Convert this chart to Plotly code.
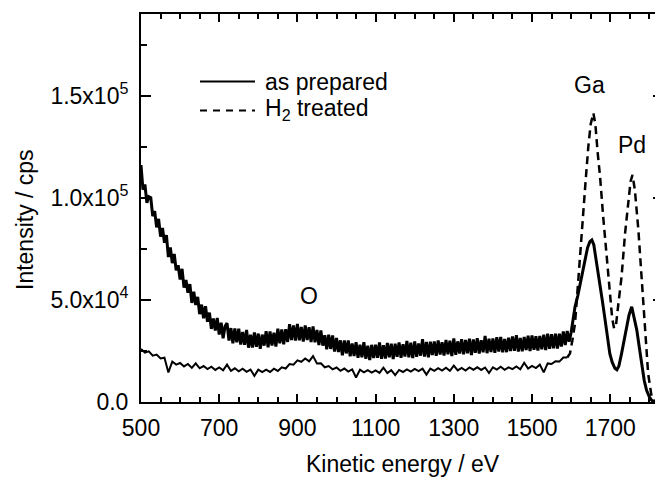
import plotly.graph_objects as go

# ---------------- data ----------------
# "as prepared" (solid curve), noisy background region, 5 eV steps 500..1595
prep_energy_low = list(range(500, 1600, 5))
prep_counts_low = [
    116000, 104000, 106500, 97500, 100500, 100000, 91000, 93500, 85500, 89700,
    81000, 85200, 78000, 81700, 71000, 75700, 68000, 72500, 64500, 67000,
    60000, 65200, 56000, 59700, 53500, 57700, 48500, 54000, 47500, 51500,
    43000, 47700, 41000, 46900, 39300, 43800, 35800, 40900, 35000, 41200,
    33000, 38800, 31200, 37100, 38600, 30100, 36200, 28800, 36000, 29200,
    35900, 28100, 34300, 28000, 35300, 26600, 32900, 26700, 34100, 27000,
    33500, 26000, 33000, 27600, 34700, 26800, 34500, 27700, 33900, 27100,
    35900, 28700, 35500, 28300, 35600, 29400, 38100, 30300, 37500, 30100,
    38200, 30200, 36700, 29600, 37500, 30300, 36600, 29300, 37000, 29200,
    35300, 27900, 35000, 27600, 32700, 25800, 32900, 26000, 32600, 24700,
    31400, 24500, 30200, 22900, 30100, 23800, 30100, 22400, 28700, 22500,
    29300, 21600, 28000, 21900, 29300, 21200, 27600, 20500, 28000, 21500,
    28100, 21600, 29200, 21200, 27800, 21300, 28900, 21900, 28500, 21000,
    28600, 22100, 29200, 21700, 28300, 22300, 29900, 21900, 29000, 21500,
    29600, 22100, 28700, 22700, 30800, 22300, 29400, 21900, 29500, 23000,
    29600, 22600, 30200, 23200, 29300, 22800, 30400, 23400, 30000, 22500,
    31100, 23100, 29700, 23700, 30800, 23300, 30400, 23900, 31000, 23000,
    30600, 24100, 31200, 23700, 30300, 24300, 32400, 23900, 31000, 24500,
    31100, 24100, 31700, 24700, 31800, 24300, 30900, 24400, 31500, 25000,
    32100, 25100, 32700, 24700, 31300, 24800, 31900, 25400, 32500, 25000,
    32600, 25600, 32200, 25200, 32300, 25800, 32900, 25400, 33500, 26100,
    33200, 26300, 33500, 26200, 33400, 27200, 34500, 27900, 34800, 29500,
]
# "as prepared" peak region (Ga, Pd)
prep_energy_peak = [1600, 1605, 1610, 1617, 1623, 1630, 1636, 1642, 1648, 1653,
                    1658, 1663, 1668, 1674, 1680, 1687, 1693, 1699, 1705, 1712,
                    1717, 1722, 1729, 1736, 1742, 1748, 1755, 1761, 1768, 1775,
                    1781, 1787, 1793, 1800, 1806, 1815, 1825, 1835]
prep_counts_peak = [34000, 40000, 46600, 52000, 58100, 65000, 71100, 75500, 78500, 79300,
                    77000, 71000, 64000, 58100, 49500, 40100, 31500, 23700, 19500, 16500,
                    15800, 17500, 23700, 31000, 36800, 42500, 46600, 42000, 35200, 26000,
                    17200, 10500, 5700, 2500, 800, 200, 0, 0]

# "H2 treated" (dashed curve), noisy background region, 10 eV steps 500..1590
h2_energy_low = list(range(500, 1600, 10))
h2_counts_low = [
    26000, 24200, 24800, 22700, 23200, 21300, 21700, 14500, 19800, 18300,
    19100, 17400, 18600, 16700, 18900, 16500, 17600, 16100, 17300, 15700,
    16900, 15500, 18300, 15300, 16500, 15000, 16300, 14800, 15900, 12800,
    15800, 14600, 15800, 14700, 16300, 15200, 17000, 16400, 18600, 18300,
    20400, 19700, 21300, 19900, 22500, 18900, 19000, 17000, 17600, 16000,
    16900, 15300, 16400, 14900, 16000, 12000, 15800, 14500, 15600, 14400,
    15500, 14300, 16800, 14200, 15600, 13200, 15700, 14700, 16000, 14900,
    16200, 15100, 16300, 13400, 16400, 15300, 16600, 15400, 16800, 15300,
    17800, 15500, 16700, 15400, 16900, 15800, 17000, 15700, 16900, 14200,
    17000, 15900, 17300, 15800, 17000, 16100, 17400, 16000, 19200, 16400,
    17700, 16600, 18300, 14500, 18900, 18600, 20000, 19800, 21800, 21800,
]
# "H2 treated" peak region (Ga, Pd)
h2_energy_peak = [1590, 1597, 1603, 1610, 1619, 1627, 1636, 1644, 1650, 1657,
                  1662, 1668, 1674, 1682, 1691, 1699, 1705, 1710, 1715, 1721,
                  1729, 1738, 1746, 1752, 1757, 1763, 1772, 1781, 1789, 1797,
                  1806, 1818, 1835]
h2_counts_peak = [21800, 23700, 30000, 38500, 61300, 84300, 105500, 125100, 136000, 141500,
                  136000, 122000, 110400, 90800, 71100, 51500, 41000, 36000, 38000, 48300,
                  61300, 82600, 99000, 108000, 111200, 103900, 84300, 58100, 35200, 13900,
                  2500, 0, 0]

x_tickvals = [500, 700, 900, 1100, 1300, 1500, 1700]
y_tickvals = [0, 50000, 100000, 150000]
y_ticktext = ["0.0", "5.0x10<sup>4</sup>", "1.0x10<sup>5</sup>", "1.5x10<sup>5</sup>"]

peak_labels = ["Ga", "Pd", "O"]
peak_label_x = [1648, 1756, 930]
peak_label_y = [155000, 126000, 52000]

legend_names = ["as prepared", "H<sub>2</sub> treated"]

# ---------------- figure ----------------
FONT = "Liberation Sans, Arial, sans-serif"
FS = 23

# page body has an 8 px margin: figure is 655x469 placed at (8, 8)
PX0, PY0, PW, PH = 141, 14, 522, 388   # plot area in window pixels


def px(xs):
    return (xs - PX0) / PW


def py(ys):
    return (PY0 + PH - ys) / PH


fig = go.Figure()

fig.add_trace(go.Scatter(x=h2_energy_low, y=h2_counts_low, mode="lines",
                         line=dict(color="black", width=2.0),
                         yaxis="y2", showlegend=False, hoverinfo="skip"))
fig.add_trace(go.Scatter(x=h2_energy_peak, y=h2_counts_peak, mode="lines",
                         line=dict(color="black", width=2.5, dash="8px,5px"),
                         yaxis="y2", showlegend=False, hoverinfo="skip"))
fig.add_trace(go.Scatter(x=prep_energy_low + prep_energy_peak,
                         y=prep_counts_low + prep_counts_peak, mode="lines",
                         line=dict(color="black", width=3.0),
                         showlegend=False, hoverinfo="skip"))

minor_x = dict(ticks="inside", ticklen=5, tickwidth=2, tickcolor="black", dtick=50, showgrid=False)
minor_y = dict(ticks="inside", ticklen=6, tickwidth=2, tickcolor="black", dtick=25000, showgrid=False)

fig.update_layout(
    width=655, height=469,
    margin=dict(l=133, r=0, t=6, b=75, autoexpand=False),
    paper_bgcolor="white", plot_bgcolor="white",
    font=dict(family=FONT, size=FS, color="black"),
    showlegend=False,
    xaxis=dict(range=[500, 1835], tickvals=x_tickvals, ticks="inside", ticklen=8,
               tickwidth=2, tickcolor="black", showline=True, linewidth=2,
               linecolor="black", mirror="ticks", showgrid=False, zeroline=False,
               minor=minor_x, tickfont=dict(family=FONT, size=FS),
               ticklabelstandoff=4, automargin=False),
    yaxis=dict(range=[0, 190000], tickvals=y_tickvals, ticktext=y_ticktext,
               ticks="inside", ticklen=10, tickwidth=2, tickcolor="black",
               showline=True, linewidth=2, linecolor="black", mirror=False,
               showgrid=False, zeroline=False, minor=minor_y,
               tickfont=dict(family=FONT, size=FS), ticklabelstandoff=6,
               automargin=False),
    yaxis2=dict(range=[0, 190000], overlaying="y", side="right", anchor="x",
                tickvals=y_tickvals, ticks="inside", ticklen=10, tickwidth=2,
                tickcolor="black", showline=False, showticklabels=False,
                showgrid=False, zeroline=False, minor=minor_y, automargin=False),
)

# axis titles
fig.add_annotation(text="Kinetic energy / eV", xref="paper", yref="paper",
                   x=px(403), y=py(464), xanchor="center", yanchor="middle",
                   showarrow=False, font=dict(family=FONT, size=FS))
fig.add_annotation(text="Intensity / cps", xref="paper", yref="paper",
                   x=px(25), y=py(220), xanchor="center", yanchor="middle", textangle=-90,
                   showarrow=False, font=dict(family=FONT, size=FS))

# peak labels
for t, lx, ly in zip(peak_labels, peak_label_x, peak_label_y):
    fig.add_annotation(text=t, x=lx, y=ly, xref="x", yref="y", showarrow=False,
                       xanchor="center", yanchor="middle", font=dict(family=FONT, size=FS))

# manual legend
fig.add_shape(type="line", xref="paper", yref="paper", x0=px(200), x1=px(255),
              y0=py(81.5), y1=py(81.5), line=dict(color="black", width=2))
fig.add_shape(type="line", xref="paper", yref="paper", x0=px(200), x1=px(255),
              y0=py(110.5), y1=py(110.5), line=dict(color="black", width=2, dash="7px,6px"))
fig.add_annotation(text=legend_names[0], xref="paper", yref="paper",
                   x=px(263), y=py(81.5), xanchor="left", yanchor="middle",
                   showarrow=False, font=dict(family=FONT, size=FS))
fig.add_annotation(text=legend_names[1], xref="paper", yref="paper",
                   x=px(263), y=py(109), xanchor="left", yanchor="middle",
                   showarrow=False, font=dict(family=FONT, size=FS))

fig.write_html("out.html")
